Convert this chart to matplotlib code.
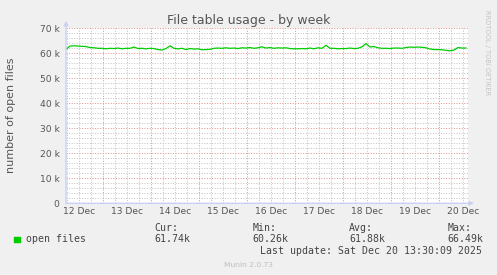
"""Munin style weekly graph: file table usage."""

import matplotlib
matplotlib.use("Agg")
import matplotlib.pyplot as plt
import matplotlib.dates as mdates
import pandas as pd
from matplotlib.patches import Rectangle

# ── Data ──────────────────────────────────────────────────────────────────────
TIMES = pd.date_range("2025-12-12 05:30", "2025-12-20 13:30", freq="2h")

# open files, in thousands, one value every 2 hours
OPEN_FILES_K = [
    61.6, 62.9, 63.0, 62.9, 62.8, 62.7, 62.3, 62.2, 62.0, 62.0,
    61.8, 62.0, 61.9, 62.1, 61.8, 62.0, 62.0, 62.5, 61.9, 62.0,
    61.8, 62.0, 61.9, 61.5, 61.3, 61.9, 63.0, 62.0, 61.8, 62.0,
    61.5, 61.9, 61.7, 61.8, 61.4, 61.5, 61.6, 62.0, 62.1, 62.0,
    62.2, 62.0, 62.1, 61.9, 62.2, 62.1, 62.3, 62.0, 62.2, 62.6,
    62.1, 62.3, 62.0, 62.2, 62.1, 62.2, 61.9, 61.8, 61.8, 61.9,
    61.8, 62.1, 61.8, 62.2, 62.0, 63.2, 62.0, 62.0, 61.8, 61.9,
    61.9, 62.1, 61.9, 62.0, 62.6, 63.9, 62.5, 62.7, 62.2, 62.0,
    62.0, 61.9, 62.1, 62.1, 62.0, 62.3, 62.5, 62.4, 62.5, 62.4,
    62.2, 61.7, 61.5, 61.5, 61.4, 61.2, 61.0, 61.3, 62.3, 62.1,
    62.1,
]

DAYS = pd.date_range("2025-12-12", "2025-12-20", freq="D")
DAY_LABELS = ["12 Dec", "13 Dec", "14 Dec", "15 Dec", "16 Dec",
              "17 Dec", "18 Dec", "19 Dec", "20 Dec"]

Y_TICKS = [0, 10000, 20000, 30000, 40000, 50000, 60000, 70000]
Y_TICK_LABELS = ["0", "10 k", "20 k", "30 k", "40 k", "50 k", "60 k", "70 k"]

LEGEND_NAME = "open files"
STATS = [("Cur:", "61.74k"), ("Min:", "60.26k"), ("Avg:", "61.88k"), ("Max:", "66.49k")]
LAST_UPDATE = "Last update: Sat Dec 20 13:30:09 2025"

# ── Colours ───────────────────────────────────────────────────────────────────
BACK   = "#F0F0F0"
CANVAS = "#FFFFFF"
GREEN  = "#00CC00"
AXIS   = "#C9D0F5"
MINOR  = "#C4C4C4"
MAJOR  = "#E39494"
TEXT   = "#555555"

W, H = 497, 275
fig = plt.figure(figsize=(W / 100, H / 100), dpi=100, facecolor=BACK)

# plot area: x 66..468 px, y 28.3..203.3 px
ax = fig.add_axes([66 / W, 1 - 203.3 / H, 402 / W, 175 / H], facecolor=CANVAS)

values = [v * 1000 for v in OPEN_FILES_K]
ax.plot(TIMES, values, color=GREEN, lw=0.9, zorder=3)

x0 = pd.Timestamp("2025-12-12 05:30")
ax.set_xlim(x0, x0 + pd.Timedelta(hours=201))
ax.set_ylim(0, 70000)

for s in ax.spines.values():
    s.set_visible(False)

ax.xaxis.set_major_locator(mdates.DayLocator())
ax.xaxis.set_minor_locator(mdates.HourLocator(byhour=[0, 6, 12, 18]))
ax.set_xticklabels([])
ax.set_yticks(Y_TICKS)
ax.set_yticklabels(Y_TICK_LABELS)
ax.yaxis.set_minor_locator(matplotlib.ticker.MultipleLocator(2000))
ax.tick_params(which="both", length=0)
ax.tick_params(axis="y", labelsize=6.6, labelcolor=TEXT, pad=4.5)

dots = (0, (1, 1.6))
ax.grid(which="minor", color=MINOR, lw=0.72, linestyle=dots, zorder=1)
ax.grid(which="major", color=MAJOR, lw=0.72, linestyle=dots, zorder=2)
ax.set_axisbelow(True)

# day labels centred on noon
for day, lab in zip(DAYS, DAY_LABELS):
    ax.text(day + pd.Timedelta(hours=12), -8.7 / 175, lab,
            transform=ax.get_xaxis_transform(), ha="center", va="center",
            fontsize=6.6, color=TEXT, clip_on=False)

# axes with arrows
arrow = dict(arrowstyle="-|>", color=AXIS, lw=1.0, mutation_scale=6,
             shrinkA=0, shrinkB=0)
ax.annotate("", xy=(0, 1 + 7.5 / 175), xytext=(0, 0),
            xycoords="axes fraction", arrowprops=arrow, annotation_clip=False)
ax.annotate("", xy=(1 + 6 / 402, 0), xytext=(0, 0),
            xycoords="axes fraction", arrowprops=arrow, annotation_clip=False)

# ── Texts ─────────────────────────────────────────────────────────────────────
fig.text(248.3 / W, 1 - 24 / H, "File table usage - by week",
         ha="center", va="baseline", fontsize=9, color=TEXT)
fig.text(11 / W, 1 - 115 / H, "number of open files", rotation=90,
         ha="center", va="center", fontsize=8, color=TEXT)
fig.text(487 / W, 1 - 53 / H, "RRDTOOL / TOBI OETIKER", rotation=270,
         ha="center", va="center", fontsize=4.8, color="#C4C4C4")

mono = dict(family="DejaVu Sans Mono", fontsize=7.1, color="#444444", va="baseline")
fig.patches.append(Rectangle((14 / W, 1 - 242 / H), 6 / W, 5.5 / H,
                             transform=fig.transFigure, color=GREEN))
fig.text(26.5 / W, 1 - 242.3 / H, LEGEND_NAME, **mono)
for xpx, (head, val) in zip([154.3, 252.3, 349.3, 447.3], STATS):
    fig.text(xpx / W, 1 - 230.8 / H, head, **mono)
    fig.text(xpx / W, 1 - 242.3 / H, val, **mono)
fig.text(482.3 / W, 1 - 254 / H, LAST_UPDATE, ha="right", **mono)

fig.text(248 / W, 1 - 267.3 / H, "Munin 2.0.73", ha="center", va="baseline",
         fontsize=5.4, color="#BEBEBE")

fig.savefig("out.png", dpi=100, facecolor=BACK)
